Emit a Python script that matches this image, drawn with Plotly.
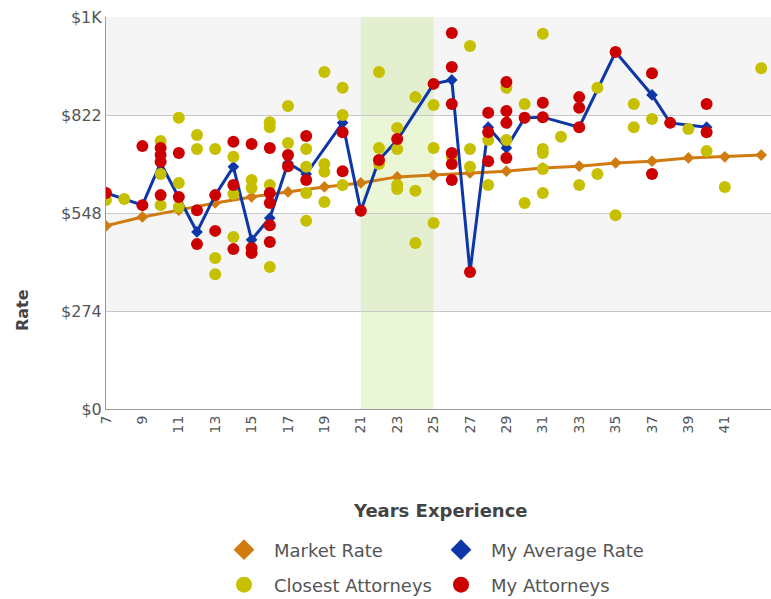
import plotly.graph_objects as go

# Market rate curve (odd years)
market_years = list(range(7, 44, 2))
market_rate = [512, 537, 556, 576, 593, 607, 621, 632, 649, 654,
               660, 665, 674, 679, 688, 693, 702, 705, 710]

# My average rate
avg_years = [7, 9, 10, 11, 12, 13, 14, 15, 16, 17, 18, 20, 21, 22,
             23, 25, 26, 27, 28, 29, 30, 31, 33, 35, 37, 38, 40]
avg_rate = [604, 570, 688, 593, 495, 598, 677, 473, 534, 688, 657, 800, 554, 696,
            752, 909, 920, 383, 788, 730, 814, 816, 788, 998, 878, 800, 788]

# My attorneys
mine_years = [7, 9, 9, 10, 10, 10, 10, 11, 11, 12, 12, 13, 13, 14, 14, 14,
              15, 15, 15, 16, 16, 16, 16, 16, 17, 17, 18, 18, 20, 20, 21, 22,
              23, 25, 26, 26, 26, 26, 26, 26, 27, 28, 28, 28, 29, 29, 29, 29,
              30, 31, 31, 33, 33, 33, 35, 37, 37, 38, 40, 40]
mine_rate = [604, 735, 570, 730, 710, 691, 598, 716, 593, 556, 461, 598, 498, 747, 626, 447,
             741, 450, 436, 730, 604, 576, 514, 467, 710, 679, 763, 640, 774, 665, 554, 696,
             755, 909, 1051, 956, 853, 716, 685, 640, 383, 828, 774, 693, 914, 833, 800, 702,
             814, 856, 816, 872, 842, 788, 998, 939, 657, 800, 853, 774]

# Closest attorneys
closest_years = [7, 8, 10, 10, 10, 11, 11, 11, 12, 12, 13, 13, 13, 14, 14, 14,
                 15, 15, 16, 16, 16, 16, 17, 17, 18, 18, 18, 18, 19, 19, 19, 19,
                 20, 20, 20, 22, 22, 22, 23, 23, 23, 23, 24, 24, 24, 25, 25, 25,
                 26, 27, 27, 27, 28, 28, 29, 29, 30, 30, 31, 31, 31, 31, 31, 32,
                 33, 34, 34, 35, 36, 36, 37, 39, 40, 41, 43]
closest_rate = [584, 587, 749, 657, 570, 814, 632, 565, 766, 727, 727, 422, 377, 705, 601, 481,
                640, 618, 802, 788, 626, 397, 847, 744, 727, 677, 604, 526, 942, 685, 663, 579,
                898, 822, 626, 942, 730, 685, 786, 727, 626, 615, 872, 610, 464, 850, 730, 520,
                705, 1015, 727, 677, 752, 626, 898, 752, 853, 576, 1049, 727, 716, 671, 604, 761,
                626, 898, 657, 542, 853, 788, 811, 783, 721, 621, 953]

y_ticks = [0, 274, 548, 822, 1096]
y_labels = ["$0", "$274", "$548", "$822", "$1K"]
x_ticks = list(range(7, 42, 2))
highlight = [21, 25]

ORANGE = "#d07a10"
BLUE = "#0d37a6"
YELLOW = "#c6c000"
RED = "#cc0000"
GRAY_TXT = "#555555"

fig = go.Figure()

fig.add_trace(go.Scatter(
    x=market_years, y=market_rate, mode="lines+markers", showlegend=False,
    line=dict(color=ORANGE, width=3),
    marker=dict(symbol="diamond", size=9, color=ORANGE),
))
fig.add_trace(go.Scatter(
    x=avg_years, y=avg_rate, mode="lines+markers", showlegend=False,
    line=dict(color=BLUE, width=3),
    marker=dict(symbol="diamond", size=9, color=BLUE),
))
fig.add_trace(go.Scatter(
    x=closest_years, y=closest_rate, mode="markers", showlegend=False,
    marker=dict(symbol="circle", size=12, color=YELLOW),
))
fig.add_trace(go.Scatter(
    x=mine_years, y=mine_rate, mode="markers", showlegend=False,
    marker=dict(symbol="circle", size=12, color=RED),
))

# legend entries: symbol only, no line
legend_items = [
    ("Market Rate", "diamond", ORANGE, "legend"),
    ("My Average Rate", "diamond", BLUE, "legend"),
    ("Closest Attorneys", "circle", YELLOW, "legend2"),
    ("My Attorneys", "circle", RED, "legend2"),
]
for name, sym, col, lg in legend_items:
    fig.add_trace(go.Scatter(
        x=[None], y=[None], mode="markers", name=name, legend=lg,
        marker=dict(symbol=sym, size=16, color=col),
    ))

# alternating bands + highlighted experience range
for lo, hi in [(274, 548), (822, 1096)]:
    fig.add_shape(type="rect", xref="paper", x0=0, x1=1, y0=lo, y1=hi,
                  fillcolor="#f5f5f5", line_width=0, layer="below")
fig.add_shape(type="rect", xref="x", yref="paper", x0=highlight[0], x1=highlight[1],
              y0=0, y1=1, fillcolor="rgba(190,225,120,0.3)", line_width=0, layer="below")

legend_style = dict(
    orientation="h", xanchor="left", yanchor="middle", yref="container",
    font=dict(family="DejaVu Sans", size=18, color=GRAY_TXT),
    entrywidth=152, itemwidth=50, bgcolor="rgba(0,0,0,0)", traceorder="normal",
)

fig.update_layout(
    width=771, height=599,
    margin=dict(l=106, r=0, t=17, b=190, autoexpand=False),
    paper_bgcolor="white", plot_bgcolor="white",
    font=dict(family="DejaVu Sans", color=GRAY_TXT),
    xaxis=dict(
        range=[7, 7 + 665 / 18.2], tickvals=x_ticks, tickangle=-90,
        showgrid=False, zeroline=False, showline=True, linecolor="#999999", linewidth=1,
        tickfont=dict(size=14, color=GRAY_TXT),
    ),
    yaxis=dict(
        range=[0, 1096], tickvals=y_ticks, ticktext=y_labels,
        showgrid=True, gridcolor="#c8c8c8", gridwidth=1, zeroline=False,
        showline=True, linecolor="#999999", linewidth=1,
        tickfont=dict(size=16, color=GRAY_TXT),
    ),
    legend=dict(x=(214 - 106) / 665, y=1 - 550 / 599, **legend_style),
    legend2=dict(x=(214 - 106) / 665, y=1 - 585 / 599, **legend_style),
    annotations=[
        dict(text="<b>Rate</b>", xref="paper", yref="paper", x=-84 / 665, y=(409 - 310) / 392,
             xanchor="center", yanchor="middle",
             textangle=-90, showarrow=False, font=dict(size=16, color="#444444")),
        dict(text="<b>Years Experience</b>", xref="paper", yref="paper",
             x=(440 - 106) / 665, y=(409 - 510) / 392, xanchor="center", yanchor="middle",
             showarrow=False, font=dict(size=18, color="#444444")),
    ],
)

fig.write_html("out.html", config={"displayModeBar": False},
               post_script="document.body.style.margin='0';")
